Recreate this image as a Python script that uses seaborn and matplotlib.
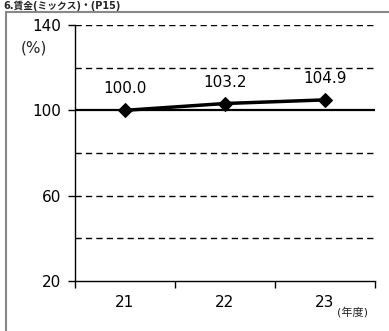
import matplotlib
matplotlib.use("Agg")
import matplotlib.pyplot as plt
import seaborn as sns
import pandas as pd
from matplotlib.patches import Rectangle

years = ["21", "22", "23"]
values = [100.0, 103.2, 104.9]
value_labels = ["100.0", "103.2", "104.9"]
y_ticks = [20, 60, 100, 140]
grid_dashed = [40, 60, 80, 120, 140]
title = "6.賃金(ミックス)・(P15)"

sns.set_theme(style="white")
plt.rcParams['font.family'] = ['DejaVu Sans', 'Noto Sans CJK JP']

fig = plt.figure(figsize=(3.89, 3.31), dpi=100)
ax = fig.add_axes([75/389, 1-281/331, 300/389, 256/331])

df = pd.DataFrame({"year": years, "value": values})
df["x"] = range(len(years))

for g in grid_dashed:
    ax.axhline(g, color="black", lw=1.0, ls=(0, (4.5, 3)), zorder=1)
ax.axhline(100, color="black", lw=1.6, zorder=2)

sns.lineplot(data=df, x="x", y="value", ax=ax, color="black", lw=2.5,
             marker="D", markersize=7, markeredgecolor="black", zorder=3)

for xi, v, lab in zip(df["x"], values, value_labels):
    ax.text(xi, v + 6.5, lab, ha="center", va="bottom", fontsize=11, color="black")

ax.set_xlim(-0.5, 2.5)
ax.set_ylim(20, 140)
ax.set_yticks(y_ticks)
ax.set_yticklabels([str(t) for t in y_ticks], fontsize=11)
ax.set_xticks([-0.5, 0.5, 1.5, 2.5])
ax.set_xticklabels([])
ax.set_xticks(df["x"], minor=True)
ax.set_xticklabels(years, minor=True, fontsize=11)
ax.tick_params(axis="x", which="major", direction="out", length=5, width=1, colors="black", bottom=True)
ax.tick_params(axis="x", which="minor", length=0, pad=10, labelcolor="black")
ax.tick_params(axis="y", direction="out", length=5, width=1, colors="black", left=True, pad=5)
ax.set_xlabel("")
ax.set_ylabel("")
for s in ["top", "right"]:
    ax.spines[s].set_visible(False)
for s in ["left", "bottom"]:
    ax.spines[s].set_color("black")
    ax.spines[s].set_linewidth(1.0)

fig.text(21/389, 1-48/331, "(%)", fontsize=11, ha="left", va="center")
fig.text(337/389, 1-312/331, "(年度)", fontsize=8, ha="left", va="center")
fig.text(3/389, 1-1/331, title, fontsize=7, fontweight="bold", ha="left", va="top")

fig.add_artist(Rectangle((6/389, -0.1), 1.2, 1-12/331+0.1, transform=fig.transFigure,
                         fill=False, edgecolor="#888888", lw=1.5))

fig.savefig("out.png", dpi=100)
